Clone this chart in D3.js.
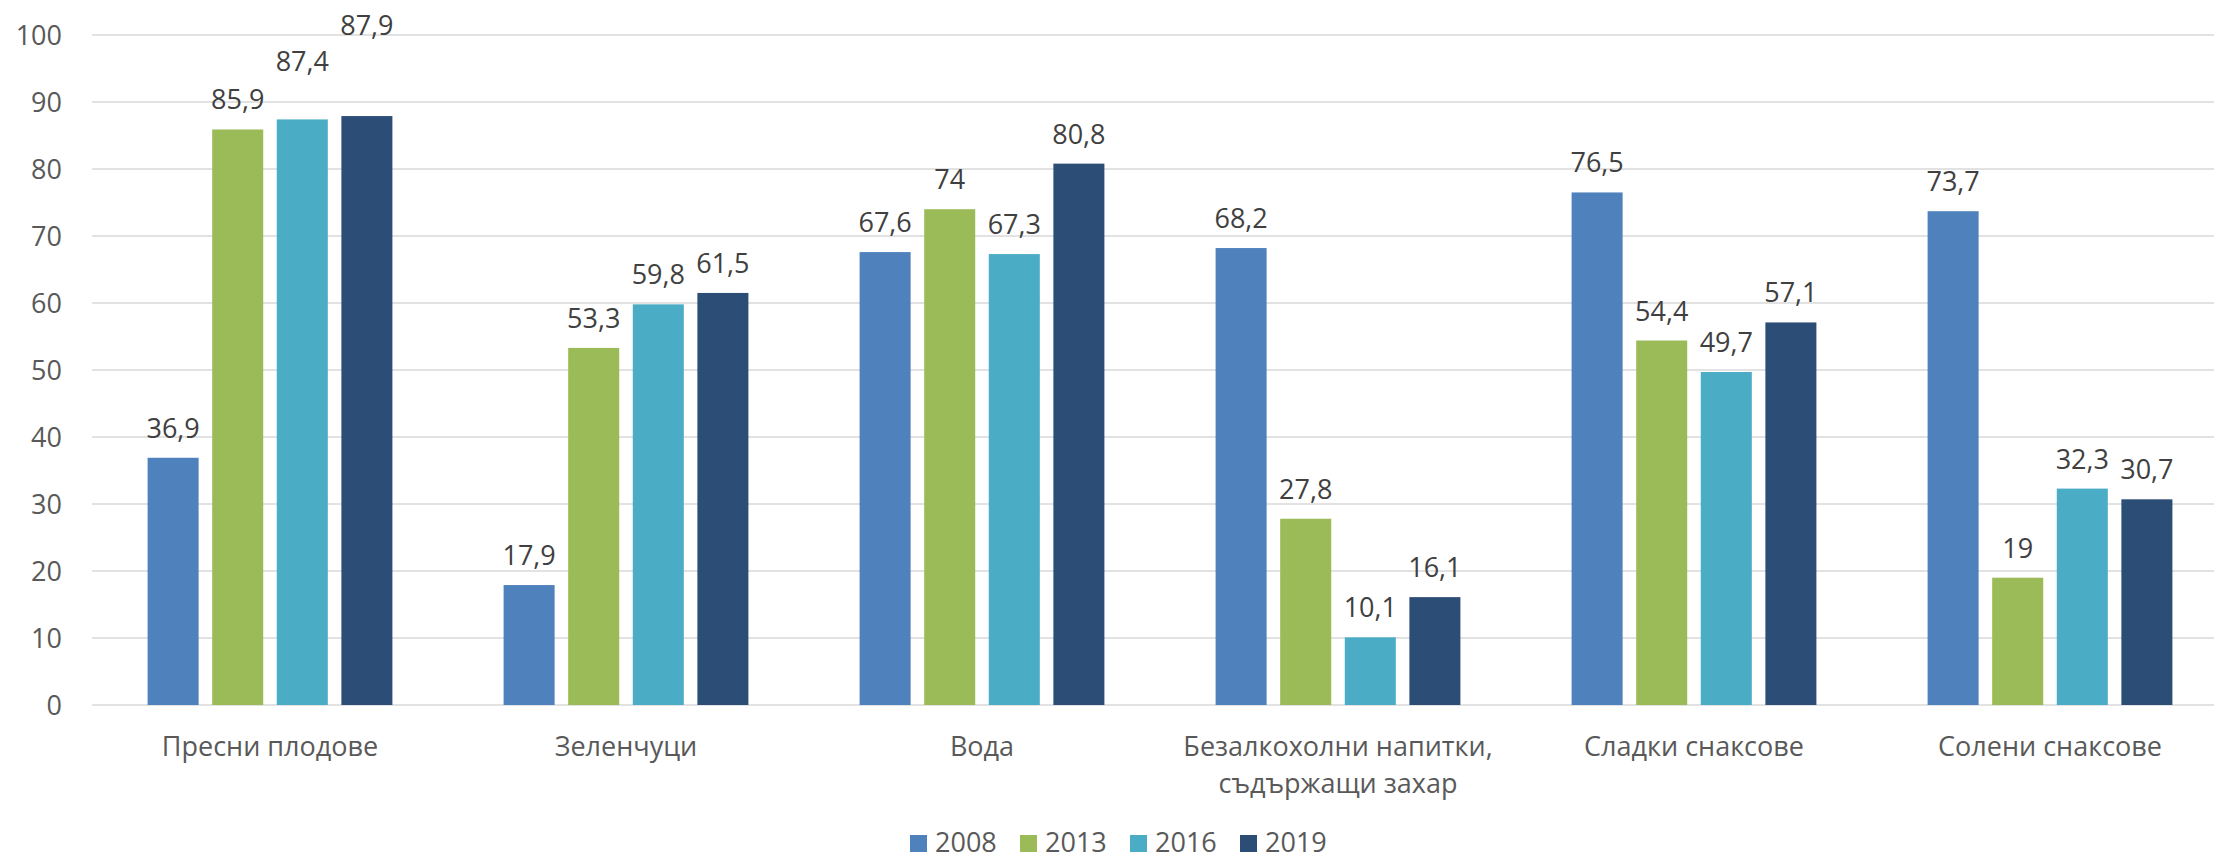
<!DOCTYPE html>
<html>
<head>
<meta charset="utf-8">
<script src="https://cdn.jsdelivr.net/npm/d3@7"></script>
<style>
  html, body { margin: 0; padding: 0; background: #fff; }
  svg { display: block; font-family: "Open Sans", "Noto Sans", sans-serif; }
</style>
</head>
<body>
<svg id="chart" width="2214" height="860"></svg>
<script>
// Category labels (a "\n" marks a line break in the axis label)
const categories = [
  "Пресни плодове",
  "Зеленчуци",
  "Вода",
  "Безалкохолни напитки,\nсъдържащи захар",
  "Сладки снаксове",
  "Солени снаксове"
];
const years = ["2008", "2013", "2016", "2019"];
const values2008 = [36.9, 17.9, 67.6, 68.2, 76.5, 73.7];
const values2013 = [85.9, 53.3, 74, 27.8, 54.4, 19];
const values2016 = [87.4, 59.8, 67.3, 10.1, 49.7, 32.3];
const values2019 = [87.9, 61.5, 80.8, 16.1, 57.1, 30.7];
const yTicks = [0, 10, 20, 30, 40, 50, 60, 70, 80, 90, 100];
const colors = ["#4F81BD", "#9BBB59", "#4BACC6", "#2C4D75"];

// Extra lift (px) for value labels that would crowd each other
const labelLift = {
  "Пресни плодове|2016": 28,
  "Пресни плодове|2019": 61
};

const seriesValues = [values2008, values2013, values2016, values2019];
const rows = categories.map((c, i) => ({
  category: c,
  bars: years.map((y, j) => ({
    category: c, year: y, value: seriesValues[j][i], color: colors[j]
  }))
}));

const svg = d3.select("#chart");
const W = 2214;

const x0 = d3.scaleBand().domain(categories).range([92, 2228]).padding(0);
const x1 = d3.scaleBand().domain(years).range([-122.4, 122.4]).paddingInner(0.21);
const y = d3.scaleLinear().domain([0, 100]).range([705, 35]);

// Horizontal gridlines
svg.append("g")
  .selectAll("line")
  .data(yTicks)
  .join("line")
  .attr("x1", 92).attr("x2", W)
  .attr("y1", d => y(d)).attr("y2", d => y(d))
  .attr("stroke", "#d9d9d9")
  .attr("stroke-width", 1.6);

// Y axis labels
const yAxis = d3.axisLeft(y).tickValues(yTicks).tickSize(0).tickPadding(0);
svg.append("g")
  .attr("transform", "translate(62,0)")
  .call(yAxis)
  .call(g => g.select(".domain").remove())
  .call(g => g.selectAll("text")
    .attr("font-size", 27)
    .attr("font-family", "'Open Sans', sans-serif")
    .attr("fill", "#595959")
    .attr("dy", "0.35em"));

// Bars and value labels
const groups = svg.append("g")
  .selectAll("g")
  .data(rows)
  .join("g")
  .attr("transform", d => `translate(${x0(d.category) + x0.bandwidth() / 2},0)`);

groups.selectAll("rect")
  .data(d => d.bars)
  .join("rect")
  .attr("x", d => x1(d.year))
  .attr("width", x1.bandwidth())
  .attr("y", d => y(d.value))
  .attr("height", d => y(0) - y(d.value))
  .attr("fill", d => d.color);

groups.selectAll("text")
  .data(d => d.bars)
  .join("text")
  .attr("x", d => x1(d.year) + x1.bandwidth() / 2)
  .attr("y", d => y(d.value) - 20 - (labelLift[d.category + "|" + d.year] || 0))
  .attr("text-anchor", "middle")
  .attr("font-size", 27)
  .attr("fill", "#404040")
  .text(d => String(d.value).replace(".", ","));

// Category axis labels
const catLabels = svg.append("g")
  .selectAll("text")
  .data(categories)
  .join("text")
  .attr("x", d => x0(d) + x0.bandwidth() / 2)
  .attr("y", 756)
  .attr("text-anchor", "middle")
  .attr("font-size", 27)
  .attr("fill", "#595959");
catLabels.selectAll("tspan")
  .data(d => d.split("\n").map(line => ({ line, x: x0(d) + x0.bandwidth() / 2 })))
  .join("tspan")
  .attr("x", d => d.x)
  .attr("dy", (d, i) => i === 0 ? 0 : 37)
  .text(d => d.line);

// Legend
const legendStep = 110;
const legend = svg.append("g")
  .attr("transform", `translate(${910},0)`);
const items = legend.selectAll("g")
  .data(years.map((yr, j) => ({ yr, color: colors[j] })))
  .join("g")
  .attr("transform", (d, i) => `translate(${i * legendStep},0)`);
items.append("rect")
  .attr("x", 0).attr("y", 835)
  .attr("width", 17).attr("height", 17)
  .attr("fill", d => d.color);
items.append("text")
  .attr("x", 25).attr("y", 852)
  .attr("font-size", 27)
  .attr("fill", "#595959")
  .text(d => d.yr);
</script>
</body>
</html>
